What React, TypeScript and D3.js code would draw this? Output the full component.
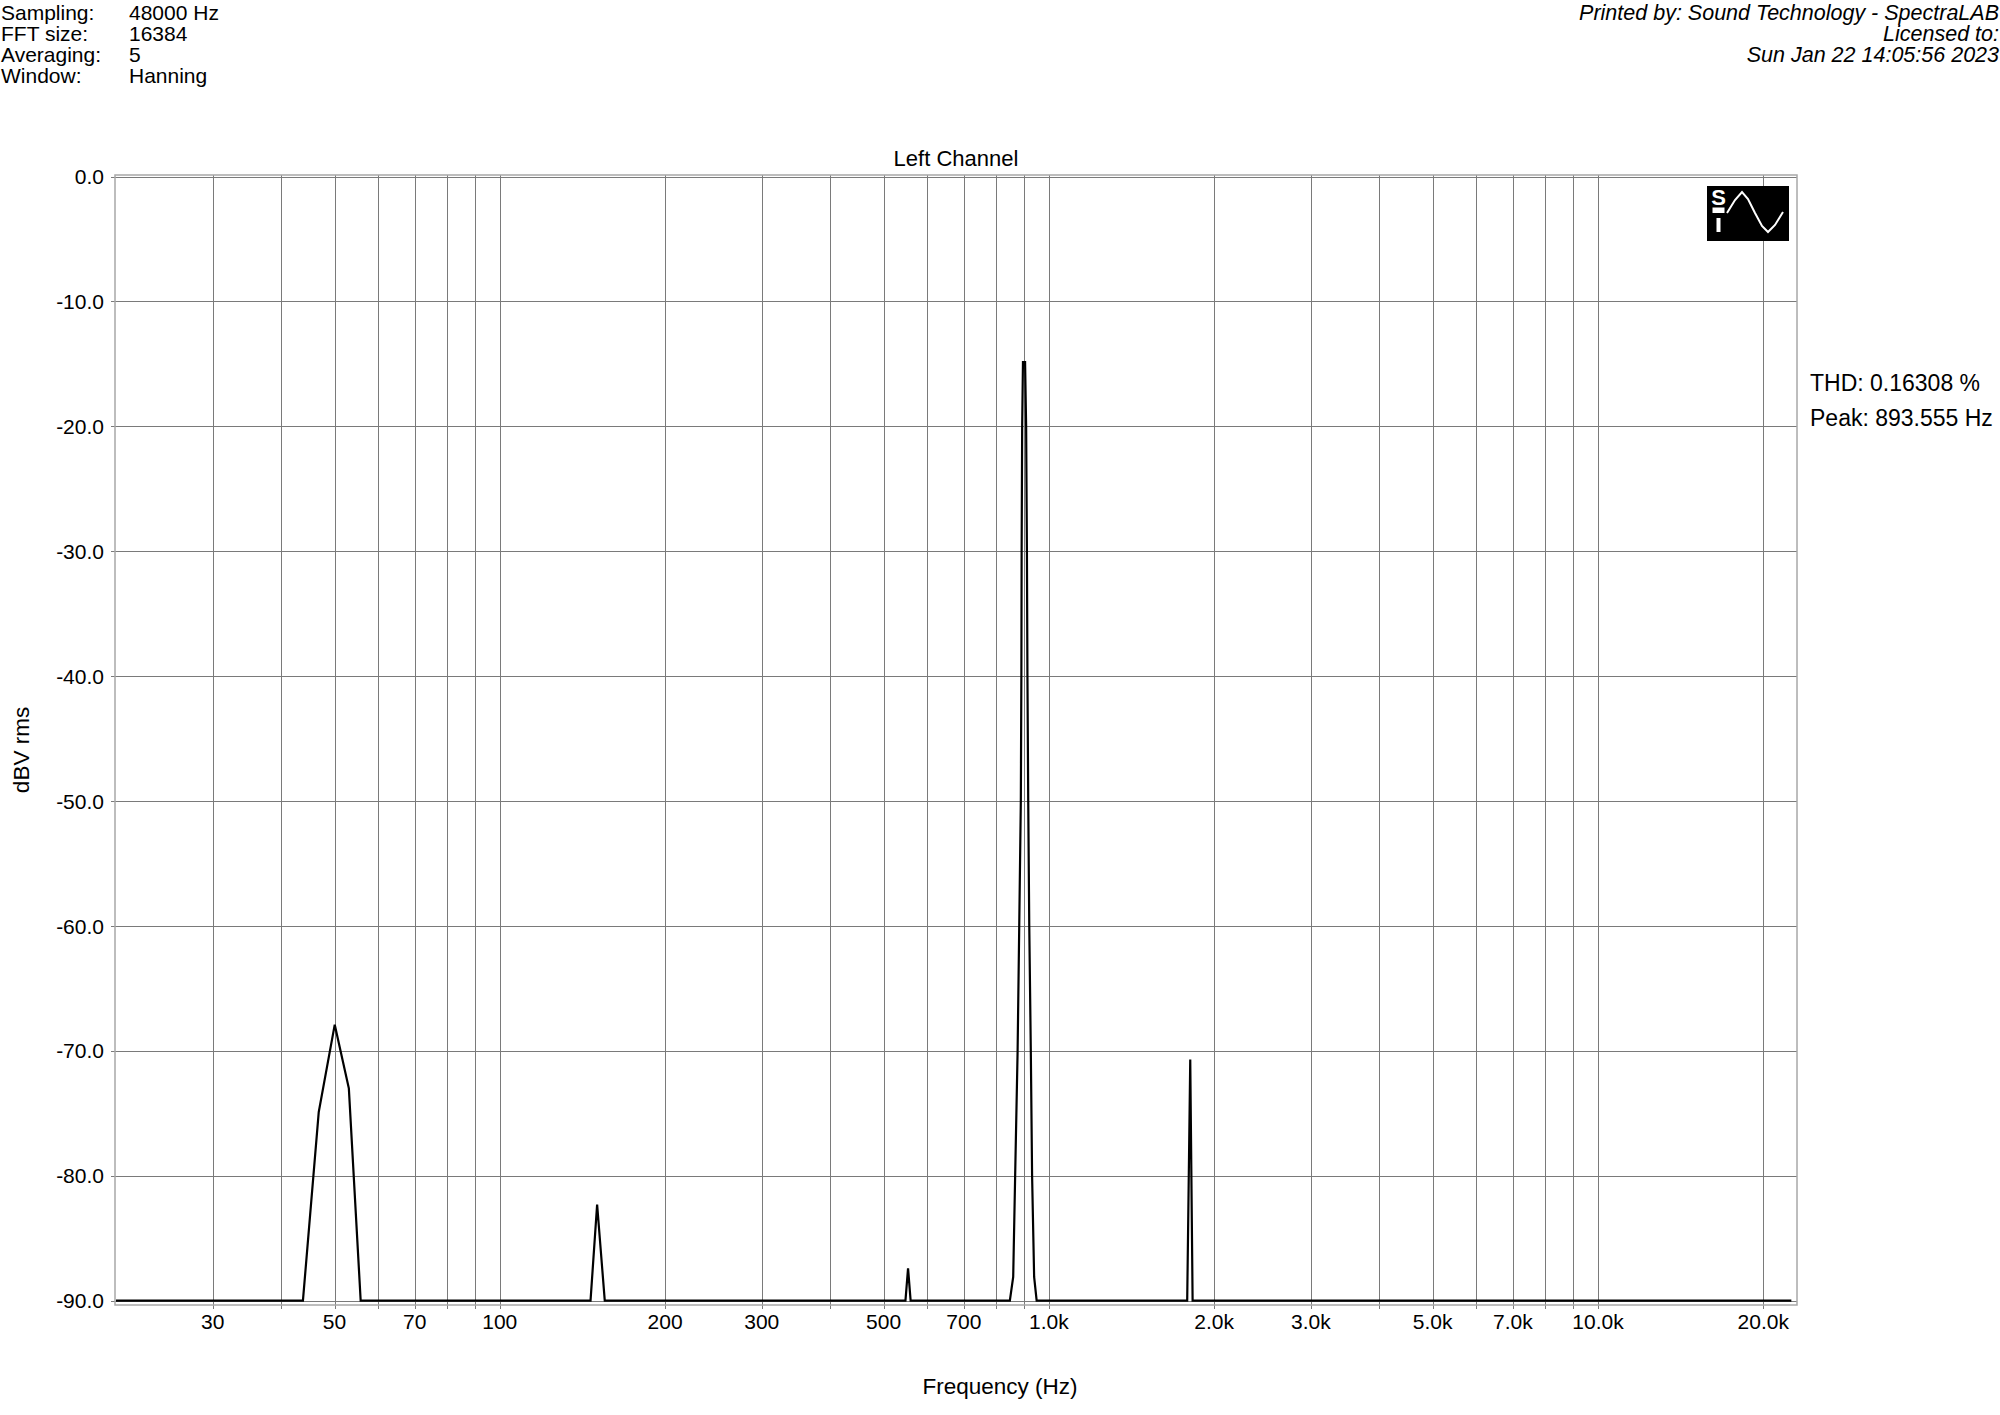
import React, { useRef, useEffect } from "react";
import * as d3 from "d3";

// spectrum (Hz, dBV rms); floor is clipped at -90
const freqHz = [
  20, 43.8, 46.8, 50.05, 53.1, 55.8,
  146.3, 150.4, 155.3,
  548, 554, 560,
  842, 849, 861, 868, 877, 883, 889, 891, 892, 894, 897, 905, 909, 912, 914, 917, 921, 927, 932, 940, 950,
  1786, 1809, 1827,
  22500,
];
const levelDb = [
  -90, -90, -74.9, -67.9, -73.0, -90,
  -90, -82.3, -90,
  -90, -87.4, -90,
  -90, -90, -88.1, -80.1, -70.1, -60.1, -50, -40, -30, -20, -14.85, -14.85, -20, -30, -40, -50, -60, -70, -80, -88.1, -90,
  -90, -70.7, -90,
  -90,
];

const xTickValues = [30, 50, 70, 100, 200, 300, 500, 700, 1000, 2000, 3000, 5000, 7000, 10000, 20000];
const xTickLabels = ["30", "50", "70", "100", "200", "300", "500", "700", "1.0k", "2.0k", "3.0k", "5.0k", "7.0k", "10.0k", "20.0k"];
const xGridValues = [
  30, 40, 50, 60, 70, 80, 90, 100, 200, 300, 400, 500, 600, 700, 800, 900,
  1000, 2000, 3000, 4000, 5000, 6000, 7000, 8000, 9000, 10000, 20000,
];
const yTickValues = [0, -10, -20, -30, -40, -50, -60, -70, -80, -90];

const headerLabels = ["Sampling:", "FFT size:", "Averaging:", "Window:"];
const headerValues = ["48000 Hz", "16384", "5", "Hanning"];
const printedLines = ["Printed by: Sound Technology - SpectraLAB", "Licensed to:", "Sun Jan 22 14:05:56 2023"];
const readouts = ["THD: 0.16308 %", "Peak: 893.555 Hz"];

const FONT = "'Liberation Sans', Arial, sans-serif";

const App: React.FC = () => {
  const svgRef = useRef<SVGSVGElement>(null);

  useEffect(() => {
    if (!svgRef.current) return;
    const svg = d3.select(svgRef.current);
    svg.selectAll("*").remove();

    // plot frame
    const frame = { left: 115, right: 1797, top: 175, bottom: 1305 };

    const x = d3.scaleLog().domain([20, 23000]).range([116, 1796.6]);
    const y = d3.scaleLinear().domain([0, -90]).range([176.5, 1300.7]);

    svg.append("rect").attr("width", 2000).attr("height", 1415).attr("fill", "white");

    // header, left
    headerLabels.forEach((t, i) => {
      svg.append("text").attr("x", 1).attr("y", 19.5 + i * 21.3)
        .style("font-family", FONT).style("font-size", "21px").text(t);
      svg.append("text").attr("x", 129).attr("y", 19.5 + i * 21.3)
        .style("font-family", FONT).style("font-size", "21px").text(headerValues[i]);
    });

    // header, right
    printedLines.forEach((t, i) => {
      svg.append("text").attr("x", 1999).attr("y", 19.5 + i * 21.3)
        .attr("text-anchor", "end")
        .style("font-family", FONT).style("font-size", "21.5px").style("font-style", "italic")
        .text(t);
    });

    // vertical gridlines (extend a little below the frame as ticks)
    svg.append("g").selectAll("line").data(xGridValues).join("line")
      .attr("x1", (d) => Math.round(x(d)) + 0.5).attr("x2", (d) => Math.round(x(d)) + 0.5)
      .attr("y1", frame.top).attr("y2", frame.bottom + 4)
      .attr("stroke", "#7a7a7a").attr("stroke-width", 1);

    // horizontal gridlines + left ticks
    svg.append("g").selectAll("line").data(yTickValues).join("line")
      .attr("x1", frame.left - 4).attr("x2", frame.right)
      .attr("y1", (d) => Math.round(y(d)) + 0.5).attr("y2", (d) => Math.round(y(d)) + 0.5)
      .attr("stroke", "#7a7a7a").attr("stroke-width", 1);

    // frame
    svg.append("rect")
      .attr("x", frame.left).attr("y", frame.top)
      .attr("width", frame.right - frame.left).attr("height", frame.bottom - frame.top)
      .attr("fill", "none").attr("stroke", "#a8a8a8").attr("stroke-width", 1.5);

    // y tick labels
    svg.append("g").selectAll("text").data(yTickValues).join("text")
      .attr("x", 104).attr("y", (d) => y(d)).attr("dy", "0.36em")
      .attr("text-anchor", "end")
      .style("font-family", FONT).style("font-size", "21px")
      .text((d) => d.toFixed(1));

    // x tick labels
    svg.append("g").selectAll("text").data(xTickValues).join("text")
      .attr("x", (d) => x(d)).attr("y", 1329)
      .attr("text-anchor", "middle")
      .style("font-family", FONT).style("font-size", "21px")
      .text((_, i) => xTickLabels[i]);

    // title and axis labels
    svg.append("text").attr("x", (frame.left + frame.right) / 2).attr("y", 166)
      .attr("text-anchor", "middle")
      .style("font-family", FONT).style("font-size", "22px").text("Left Channel");

    svg.append("text").attr("x", 1000).attr("y", 1394)
      .attr("text-anchor", "middle")
      .style("font-family", FONT).style("font-size", "22.5px").text("Frequency (Hz)");

    svg.append("text")
      .attr("transform", "translate(29,750) rotate(-90)")
      .attr("text-anchor", "middle")
      .style("font-family", FONT).style("font-size", "22.5px").text("dBV rms");

    // readouts on the right
    readouts.forEach((t, i) => {
      svg.append("text").attr("x", 1810).attr("y", 391 + i * 35)
        .style("font-family", FONT).style("font-size", "23px").text(t);
    });

    // spectrum trace
    const pts = freqHz.map((f, i) => [f, levelDb[i]] as [number, number]);
    const line = d3.line<[number, number]>().x((d) => x(d[0])).y((d) => y(d[1]));
    svg.append("path").attr("d", line(pts) ?? "")
      .attr("fill", "none").attr("stroke", "black").attr("stroke-width", 2.2)
      .attr("stroke-linejoin", "miter");

    // ST logo
    const logo = svg.append("g");
    logo.append("rect").attr("x", 1707).attr("y", 186).attr("width", 82).attr("height", 55).attr("fill", "black");
    logo.append("text").attr("x", 1718.5).attr("y", 205)
      .attr("text-anchor", "middle").attr("fill", "white")
      .style("font-family", FONT).style("font-size", "22px").style("font-weight", "bold").text("S");
    logo.append("rect").attr("x", 1712.5).attr("y", 207.5).attr("width", 12).attr("height", 5.5).attr("fill", "white");
    logo.append("rect").attr("x", 1716.5).attr("y", 218).attr("width", 4).attr("height", 14).attr("fill", "white");
    const wave: [number, number][] = [[1727, 213], [1735, 200], [1742, 192], [1748, 199], [1755, 213], [1762, 226], [1768, 232], [1775, 225], [1783, 212]];
    logo.append("path")
      .attr("d", d3.line()(wave) ?? "")
      .attr("fill", "none").attr("stroke", "white").attr("stroke-width", 2);
  }, []);

  return (
    <svg
      ref={svgRef}
      width={2000}
      height={1415}
      style={{ position: "absolute", left: 0, top: 0, display: "block" }}
    />
  );
};

export default App;
